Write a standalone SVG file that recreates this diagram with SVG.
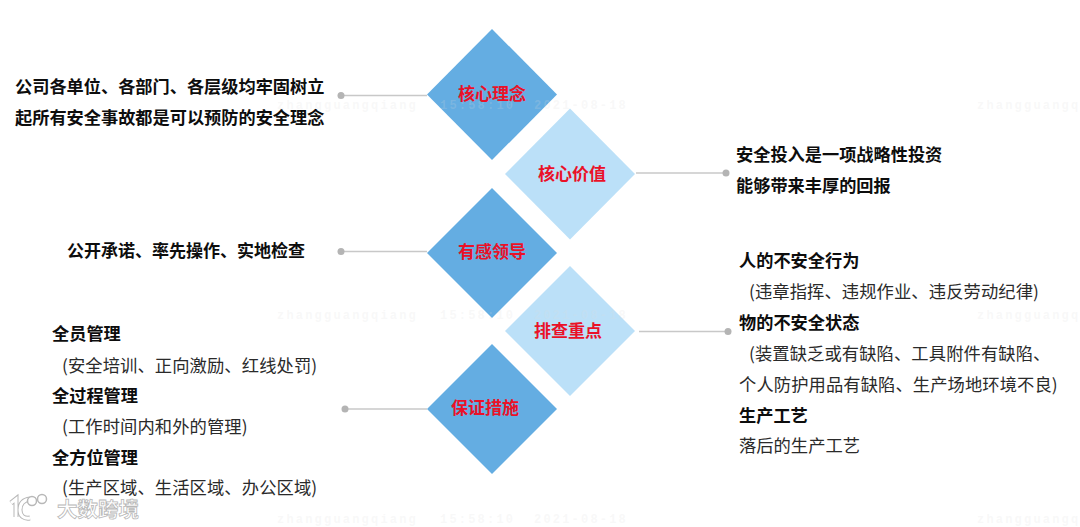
<svg xmlns="http://www.w3.org/2000/svg" width="1080" height="527" viewBox="0 0 1080 527">
<style>
text{font-family:"Noto Sans CJK SC","Liberation Sans",sans-serif;font-size:17.300px;fill:#2a2a2a}
.b{font-weight:700;fill:#0d0d0d;font-size:17.200px}
.n{font-weight:700;fill:#ea1128;text-anchor:middle;font-size:17px}
.p{letter-spacing:.1px}
.dk{fill:#64ade2}
.lt{fill:#bbe0f8}
.ln{stroke:#c8c8c8;stroke-width:1.5;fill:none}
.dot{fill:#b4b4b4}
.wm{font-family:"Liberation Mono",monospace;font-size:12px;fill:#dcdcdc;fill-opacity:.2;font-weight:700;letter-spacing:2.200px}
.logo{font-size:20.500px;font-weight:700;fill:#fff;stroke:#b8b8b8;stroke-width:.8px}
</style>
<g id="connectors">
<path class="ln" d="M341 95.500H427"/><circle class="dot" cx="341" cy="95.500" r="3.500"/>
<path class="ln" d="M636 173H726"/><circle class="dot" cx="726" cy="173" r="3.500"/>
<path class="ln" d="M341 251.500H427"/><circle class="dot" cx="341" cy="251.500" r="3.500"/>
<path class="ln" d="M639 331.500H728"/><circle class="dot" cx="728" cy="331.500" r="3.500"/>
<path class="ln" d="M345 409H427"/><circle class="dot" cx="345" cy="409" r="3.500"/>
</g>
<g id="n1"><path class="dk" d="M492 29L557 94.500L492 160L427 94.500Z"/></g>
<g id="n2"><path class="lt" d="M570 108.500L635 174L570 239.500L505 174Z"/></g>
<g id="n3"><path class="dk" d="M492 188L557 253L492 318L427 253Z"/></g>
<g id="n4"><path class="lt" d="M570 266L635 331L570 396L505 331Z"/></g>
<g id="n5"><path class="dk" d="M492 344L557 409L492 474L427 409Z"/></g>
<g id="watermark">
<text class="wm" x="277" y="109">zhangguangqiang</text><text class="wm" x="440" y="109">15:58:10</text><text class="wm" x="534" y="109">2021-08-18</text><text class="wm" x="977" y="109">zhangguangq</text>
<text class="wm" x="277" y="319">zhangguangqiang</text><text class="wm" x="440" y="319">15:58:10</text><text class="wm" x="534" y="319">2021-08-18</text><text class="wm" x="977" y="319">zhangguangq</text>
<text class="wm" x="277" y="523">zhangguangqiang</text><text class="wm" x="440" y="523">15:58:10</text><text class="wm" x="534" y="523">2021-08-18</text><text class="wm" x="977" y="523">zhangguangq</text>
</g>
<g id="labels">
<text class="n" x="492" y="100">核心理念</text>
<text class="n" x="572" y="180">核心价值</text>
<text class="n" x="492" y="258">有感领导</text>
<text class="n" x="568" y="337">排查重点</text>
<text class="n" x="485" y="414">保证措施</text>
</g>
<g id="t1"><text class="b" x="15" y="93">公司各单位、各部门、各层级均牢固树立</text><text class="b" x="15" y="124">起所有安全事故都是可以预防的安全理念</text></g>
<g id="t2"><text class="b" x="736" y="161">安全投入是一项战略性投资</text><text class="b" x="736" y="192">能够带来丰厚的回报</text></g>
<g id="t3"><text class="b" x="67" y="257" style="font-size:17px">公开承诺、率先操作、实地检查</text></g>
<g id="t4">
<text class="b" x="739" y="267">人的不安全行为</text>
<text class="p" x="749" y="298">(违章指挥、违规作业、违反劳动纪律)</text>
<text class="b" x="739" y="329">物的不安全状态</text>
<text class="p" x="749" y="360">(装置缺乏或有缺陷、工具附件有缺陷、</text>
<text class="p" x="739" y="391">个人防护用品有缺陷、生产场地环境不良)</text>
<text class="b" x="739" y="422">生产工艺</text>
<text x="739" y="452">落后的生产工艺</text>
</g>
<g id="t5">
<text class="b" x="52" y="340">全员管理</text>
<text class="p" x="62" y="372">(安全培训、正向激励、红线处罚)</text>
<text class="b" x="52" y="402">全过程管理</text>
<text class="p" x="62" y="433">(工作时间内和外的管理)</text>
<text class="b" x="52" y="464">全方位管理</text>
<text class="p" x="62" y="494">(生产区域、生活区域、办公区域)</text>
</g>
<g id="logo">
<path d="M11 503L16 499V517M30 499C22 500 20 505 20 510C20 516 24 519 30 518" fill="none" stroke="#b8b8b8" stroke-width="5"/>
<path d="M11 503L16 499V517M30 499C22 500 20 505 20 510C20 516 24 519 30 518" fill="none" stroke="#fff" stroke-width="3"/>
<circle cx="32" cy="501" r="4.500" fill="#fff" stroke="#b8b8b8" stroke-width="1.500"/><circle cx="42" cy="499" r="4.500" fill="#fff" stroke="#b8b8b8" stroke-width="1.500"/>
<text class="logo" x="57" y="517">大数跨境</text>
</g>
</svg>
